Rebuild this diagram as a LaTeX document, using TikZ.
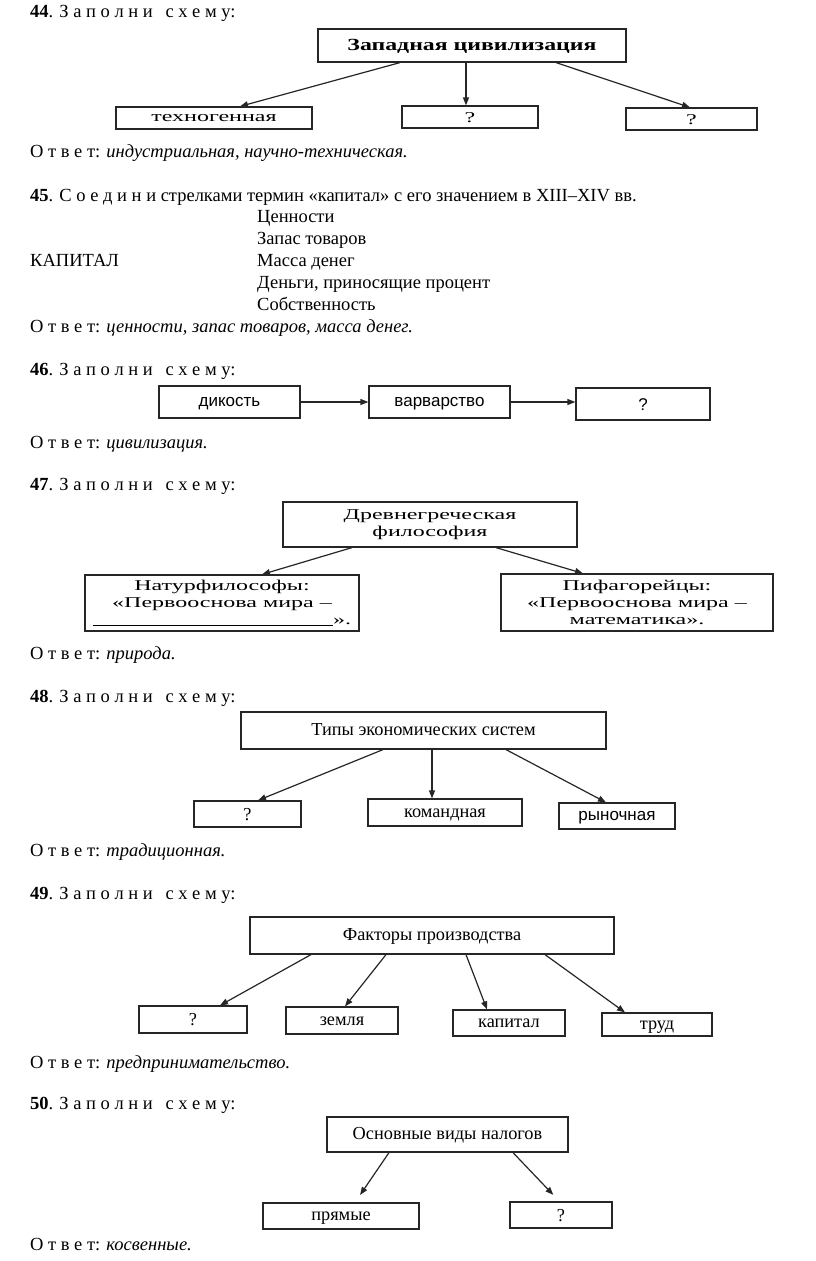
\documentclass[tikz,border=0pt]{standalone}
\usepackage{fontspec}
\setmainfont{Liberation Serif}
\newfontfamily\sfont{Liberation Sans}
\newfontfamily\wfont[FakeStretch=1.6]{Liberation Serif}
\newfontfamily\wbfont[FakeStretch=1.4]{Liberation Serif}
\usetikzlibrary{arrows.meta}
\begin{document}
\begin{tikzpicture}[x=1pt,y=-1pt,
  txt/.style={anchor=base west, inner sep=0pt, font=\fontsize{18.5}{22}\selectfont},
  bx/.style={draw=black!85, line width=1.2pt, inner sep=0pt, text height=11pt, text depth=2pt, font=\fontsize{18.3}{20}\selectfont},
  qbx/.style={bx, text height=12.5pt, text depth=0pt},
  sbx/.style={bx, font=\sfont\fontsize{17}{20}\selectfont},
  sqbx/.style={sbx, text height=12.5pt, text depth=0pt},
  bbx/.style={bx, text height=12pt, text depth=2pt, font=\wbfont\bfseries\fontsize{17}{20}\selectfont},
  wsbx/.style={bx, text height=9pt, text depth=2pt, font=\wfont\fontsize{15}{17}\selectfont},
  wqbx/.style={wsbx, text height=10pt, text depth=0pt},
  wbx/.style={draw=black!85, line width=1.2pt, inner sep=0pt, align=center, font=\wfont\fontsize{15}{17}\selectfont},
  arr/.style={draw=black!85, line width=1.2pt, -{Triangle[length=8pt,width=6pt]}}]
\useasboundingbox[fill=white] (0,0) rectangle (816,1261);
\def\zap{З а п о л н и\hspace{8pt} с х е м у:}
\def\otv{О т в е т:}
% ---------- 44
\node[txt] (h44) at (30,17) {\textbf{44}. \zap};
\node[bbx, minimum width=308pt, minimum height=33pt] (t44) at (472,45.5) {Западная цивилизация};
\node[wsbx, minimum width=196pt, minimum height=22pt] (a44) at (214,118) {техногенная};
\node[wqbx, minimum width=136pt, minimum height=22pt] (b44) at (470,117) {?};
\node[wqbx, minimum width=131pt, minimum height=22pt] (c44) at (691.5,119) {?};
\draw[arr] ([xshift=-72pt]t44.south) -- ([xshift=26pt]a44.north);
\draw[arr] ([xshift=-6pt]t44.south) -- ([xshift=-4pt]b44.north);
\draw[arr] ([xshift=84pt]t44.south) -- ([xshift=-1.5pt]c44.north);
\node[txt] (o44) at (30,157) {\otv{} \textit{индустриальная, научно-техническая.}};
% ---------- 45
\node[txt] (h45) at (30,201) {\textbf{45}. С о е д и н и стрелками термин «капитал» с его значением в XIII–XIV вв.};
\node[txt] (i1) at (257,222) {Ценности};
\node[txt] (i2) at (257,244) {Запас товаров};
\node[txt] (i3) at (257,266) {Масса денег};
\node[txt] (i4) at (257,288) {Деньги, приносящие процент};
\node[txt] (i5) at (257,310) {Собственность};
\node[txt] (kap) at (30,266) {КАПИТАЛ};
\node[txt] (o45) at (30,332) {\otv{} \textit{ценности, запас товаров, масса денег.}};
% ---------- 46
\node[txt] (h46) at (30,375) {\textbf{46}. \zap};
\node[sbx, minimum width=141pt, minimum height=32pt] (a46) at (229.5,402) {дикость};
\node[sbx, minimum width=141pt, minimum height=32pt] (b46) at (439.5,402) {варварство};
\node[sqbx, minimum width=134pt, minimum height=32pt] (c46) at (643,404) {?};
\draw[arr] (a46.east) -- (b46.west);
\draw[arr] (b46.east) -- (b46.east -| c46.west);
\node[txt] (o46) at (30,448) {\otv{} \textit{цивилизация.}};
% ---------- 47
\node[txt] (h47) at (30,490) {\textbf{47}. \zap};
\node[wbx, minimum width=294pt, minimum height=45pt] (t47) at (430,524.5) {Древнегреческая\\философия};
\node[wbx, minimum width=274pt, minimum height=56pt] (a47) at (222,603) {Натурфилософы:\\«Первооснова мира –\\\rule[-1pt]{240pt}{0.7pt}».};
\node[wbx, minimum width=272pt, minimum height=57pt] (b47) at (637,602.5) {Пифагорейцы:\\«Первооснова мира –\\математика».};
\draw[arr] ([xshift=-78pt]t47.south) -- ([xshift=40pt]a47.north);
\draw[arr] ([xshift=66pt]t47.south) -- ([xshift=-54pt]b47.north);
\node[txt] (o47) at (30,659) {\otv{} \textit{природа.}};
% ---------- 48
\node[txt] (h48) at (30,702) {\textbf{48}. \zap};
\node[bx, minimum width=365pt, minimum height=37pt] (t48) at (423.5,730.5) {Типы экономических систем};
\node[qbx, minimum width=107pt, minimum height=26pt] (a48) at (247.5,814) {?};
\node[bx, minimum width=154pt, minimum height=27pt] (b48) at (445,812.5) {командная};
\node[sbx, minimum width=116pt, minimum height=26pt] (c48) at (617,816) {рыночная};
\draw[arr] ([xshift=-40.5pt]t48.south) -- ([xshift=10.5pt]a48.north);
\draw[arr] ([xshift=8.5pt]t48.south) -- ([xshift=-13pt]b48.north);
\draw[arr] ([xshift=82.5pt]t48.south) -- ([xshift=-11pt]c48.north);
\node[txt] (o48) at (30,856) {\otv{} \textit{традиционная.}};
% ---------- 49
\node[txt] (h49) at (30,899) {\textbf{49}. \zap};
\node[bx, minimum width=364pt, minimum height=37pt] (t49) at (432,935.5) {Факторы производства};
\node[qbx, minimum width=108pt, minimum height=27pt] (a49) at (193,1019.5) {?};
\node[bx, minimum width=112pt, minimum height=27pt] (b49) at (342,1020.5) {земля};
\node[bx, minimum width=112pt, minimum height=26pt] (c49) at (509,1023) {капитал};
\node[bx, minimum width=110pt, minimum height=23pt] (d49) at (657,1024.5) {труд};
\draw[arr] ([xshift=-121pt]t49.south) -- ([xshift=27pt]a49.north);
\draw[arr] ([xshift=-46pt]t49.south) -- ([xshift=3pt]b49.north);
\draw[arr] ([xshift=34pt]t49.south) -- ([xshift=-22pt]c49.north);
\draw[arr] ([xshift=113pt]t49.south) -- ([xshift=-32pt]d49.north);
\node[txt] (o49) at (30,1068) {\otv{} \textit{предпринимательство.}};
% ---------- 50
\node[txt] (h50) at (30,1109) {\textbf{50}. \zap};
\node[bx, minimum width=241pt, minimum height=35pt] (t50) at (447.5,1134.5) {Основные виды налогов};
\node[bx, minimum width=156pt, minimum height=26pt] (a50) at (341,1216) {прямые};
\node[qbx, minimum width=102pt, minimum height=26pt] (b50) at (561,1215) {?};
\draw[arr, shorten >=9pt] ([xshift=-58.5pt]t50.south) -- ([xshift=14pt]a50.north);
\draw[arr, shorten >=9pt] ([xshift=65.5pt]t50.south) -- ([xshift=-1.5pt]b50.north);
\node[txt] (o50) at (30,1250) {\otv{} \textit{косвенные.}};
\end{tikzpicture}
\end{document}
